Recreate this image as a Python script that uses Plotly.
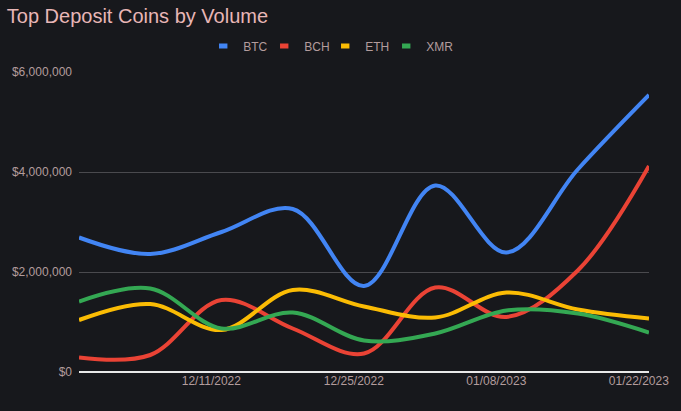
import plotly.graph_objects as go

# weekly data points
dates = ['2022-11-28', '2022-12-05', '2022-12-12', '2022-12-19', '2022-12-26',
         '2023-01-02', '2023-01-09', '2023-01-16', '2023-01-23']

btc = [2690000, 2360000, 2800000, 3260000, 1720000, 3730000, 2390000, 4050000, 5540000]
bch = [290000, 340000, 1440000, 870000, 370000, 1690000, 1100000, 2030000, 4120000]
eth = [1040000, 1360000, 840000, 1640000, 1310000, 1090000, 1590000, 1250000, 1070000]
xmr = [1410000, 1670000, 870000, 1190000, 630000, 770000, 1230000, 1170000, 790000]

tick_dates = ['2022-12-11', '2022-12-25', '2023-01-08', '2023-01-22']
y_ticks = [0, 2000000, 4000000, 6000000]
y_labels = ['$0', '$2,000,000', '$4,000,000', '$6,000,000']

series = [
    ('BTC', btc, '#4285f4'),
    ('BCH', bch, '#ea4335'),
    ('ETH', eth, '#fbbc04'),
    ('XMR', xmr, '#34a853'),
]

FONT = 'Liberation Sans, Arial, sans-serif'
TXT = '#b39c9c'

fig = go.Figure()
for name, vals, color in series:
    fig.add_trace(go.Scatter(
        x=dates, y=vals, name=name, mode='lines', showlegend=False,
        line=dict(color=color, width=4, shape='spline', smoothing=1.0),
    ))
# legend entries with small rectangular swatches
for i, (name, vals, color) in enumerate(series):
    fig.add_trace(go.Scatter(
        x=[None], y=[None], name=name, mode='markers',
        legendwidth=32 if i == len(series) - 1 else None,
        marker=dict(symbol='line-ew', size=6, color=color,
                    line=dict(width=5, color=color)),
    ))

fig.update_layout(
    width=681, height=411,
    paper_bgcolor='#17181c', plot_bgcolor='#17181c',
    font=dict(family=FONT, color=TXT, size=12),
    title=dict(text='Top Deposit Coins by Volume', x=0.01, xanchor='left',
               y=0.962, yanchor='middle',
               font=dict(size=20, color='#e8b6b6')),
    legend=dict(orientation='h', x=0.446, xanchor='center', y=1.087, yanchor='middle',
                font=dict(size=12, color=TXT), bgcolor='rgba(0,0,0,0)',
                itemwidth=30, entrywidth=16, entrywidthmode='pixels'),
    margin=dict(l=73, r=31, t=72, b=39),
    showlegend=True,
    xaxis=dict(
        type='date', range=['2022-11-28', '2023-01-23'],
        tickvals=tick_dates, tickformat='%m/%d/%Y',
        showgrid=False, zeroline=False, showline=False,
        tickfont=dict(size=12, color=TXT), ticks='',
    ),
    yaxis=dict(
        range=[0, 6000000], tickvals=y_ticks, ticktext=y_labels,
        gridcolor='#4a4a4e', gridwidth=1, zeroline=True, zerolinecolor='#e8e8e8',
        zerolinewidth=1.5, tickfont=dict(size=12, color=TXT), ticks='',
        ticklabelstandoff=6,
    ),
)

fig.write_html('out.html', config={'displayModeBar': False},
               post_script="document.body.style.margin='0';document.body.style.overflow='hidden';")
